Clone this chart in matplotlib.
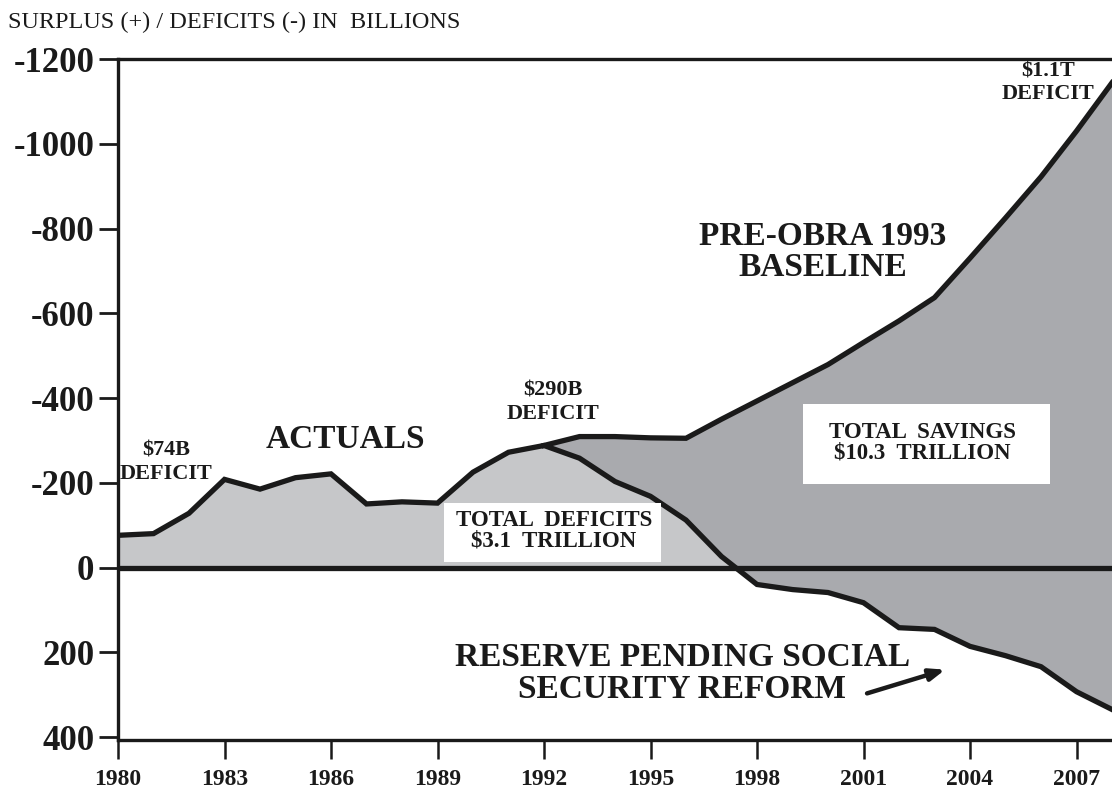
import matplotlib
matplotlib.use("Agg")
import matplotlib.pyplot as plt
from matplotlib.patches import Rectangle
import numpy as np

# ---- data (billions; negative = deficit, positive = surplus) ----
actual_years = list(range(1980, 2009))
actual = [-76, -80, -128, -208, -185, -212, -221, -150, -155, -152,
          -225, -272, -288, -258, -203, -168, -112, -26, 40, 52,
          59, 83, 142, 146, 186, 208, 234, 293, 335]
baseline_years = list(range(1992, 2009))
baseline = [-288, -309, -309, -306, -305, -350, -393, -436,
            -479, -531, -582, -637, -730, -825, -922, -1030, -1144]

yticks = [-1200, -1000, -800, -600, -400, -200, 0, 200, 400]
xticks = [1980, 1983, 1986, 1989, 1992, 1995, 1998, 2001, 2004, 2007]

LIGHT = "#c6c7c9"
DARK = "#a9aaae"
INK = "#1a1a1a"
SERIF = ["Liberation Serif", "DejaVu Serif"]

plt.rcParams["font.family"] = SERIF

fig = plt.figure(figsize=(11.12, 7.91), dpi=100)
ax = fig.add_axes([118 / 1112, 1 - 740 / 791, 1 - 118 / 1112, (740 - 59) / 791])

ay = np.array(actual_years, dtype=float)
av = np.array(actual, dtype=float)
by = np.array(baseline_years, dtype=float)
bv = np.array(baseline, dtype=float)

# light gray: actual deficits down to zero
ax.fill_between(ay, av, 0, where=av <= 0, interpolate=True,
                color=LIGHT, lw=0, zorder=1)
# dark gray: between baseline and actual path
av_sub = np.interp(by, ay, av)
ax.fill_between(by, bv, av_sub, color=DARK, lw=0, zorder=1)

ax.axhline(0, color=INK, lw=3.8, zorder=3)
ax.plot(ay, av, color=INK, lw=3.8, solid_joinstyle="miter", zorder=4)
ax.plot(by, bv, color=INK, lw=3.8, solid_joinstyle="miter", zorder=4)

ax.set_xlim(1980, 2008)
ax.set_ylim(407, -1200)

for s in ["left", "bottom", "top"]:
    ax.spines[s].set_linewidth(2.4)
    ax.spines[s].set_color(INK)
ax.spines["right"].set_visible(False)

ax.set_yticks(yticks)
ax.set_yticklabels([str(v) for v in yticks], fontsize=25, fontweight="bold")
ax.set_xticks(xticks)
ax.set_xticklabels([str(v) for v in xticks], fontsize=17, fontweight="bold")
ax.tick_params(axis="y", direction="out", length=14, width=2, pad=3, colors=INK)
ax.tick_params(axis="x", direction="out", length=14, width=1.8, pad=7, colors=INK)

bold = dict(fontweight="bold", color=INK, ha="center", va="center")

ax.text(1986.4, -302, "ACTUALS", fontsize=24, **bold)
ax.text(1999.85, -745, "PRE-OBRA 1993\nBASELINE", fontsize=24, linespacing=1.0, **bold)
ax.text(1995.9, 250, "RESERVE PENDING SOCIAL\nSECURITY REFORM", fontsize=24,
        linespacing=1.05, **bold)
ax.text(1981.35, -248, "$74B\nDEFICIT", fontsize=16, linespacing=1.2, **bold)
ax.text(1992.25, -390, "$290B\nDEFICIT", fontsize=16, linespacing=1.2, **bold)
ax.text(2006.2, -1144, "$1.1T\nDEFICIT", fontsize=16, linespacing=1.2, **bold)

# white label boxes
ax.add_patch(Rectangle((1989.18, -153), 6.12, 141, fc="white", ec="none", zorder=5))
ax.add_patch(Rectangle((1999.30, -387), 6.95, 191, fc="white", ec="none", zorder=5))
ax.text(1992.28, -87, "TOTAL  DEFICITS\n$3.1  TRILLION", fontsize=16.5,
        linespacing=0.95, zorder=6, **bold)
ax.text(2002.65, -295, "TOTAL  SAVINGS\n$10.3  TRILLION", fontsize=16.5,
        linespacing=0.95, zorder=6, **bold)

ax.annotate("", xy=(2003.3, 241), xytext=(2001.1, 297),
            arrowprops=dict(arrowstyle="-|>,head_length=0.9,head_width=0.35",
                            lw=3.2, color=INK, shrinkA=0, shrinkB=0),
            zorder=6)

fig.text(8 / 1112, 1 - 22 / 791, "SURPLUS (+) / DEFICITS (-) IN  BILLIONS",
         fontsize=17.5, ha="left", va="center", color=INK)

fig.savefig("out.png", dpi=100)
